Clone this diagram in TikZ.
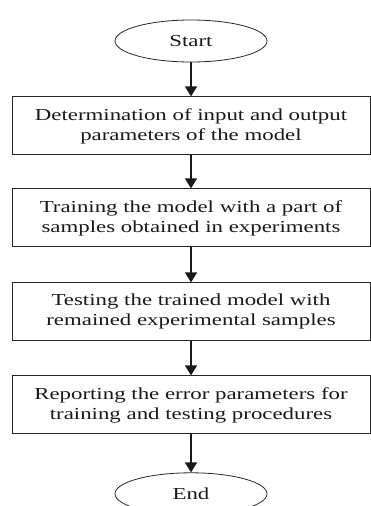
\documentclass[tikz,border=0pt]{standalone}
\usepackage{fontspec}
\setmainfont{Liberation Serif}[FakeStretch=1.36]
\usepackage{tikz}
\usetikzlibrary{shapes.geometric,positioning,arrows.meta}

\begin{document}
\begin{tikzpicture}[
    >={Triangle[width=12pt,length=10pt]},
    every node/.style={font=\fontsize{16.8}{20}\selectfont, text=black!90},
    terminal/.style={ellipse, draw=black!85, line width=0.8pt, minimum width=152pt, minimum height=42pt, inner sep=0pt},
    process/.style={rectangle, draw=black!85, line width=1pt, minimum width=358pt, minimum height=58pt, align=center, inner sep=0pt},
    flow/.style={->, line width=1.4pt, black!90}
]
    \useasboundingbox (0,0) rectangle (371pt,-506pt);

    \node[terminal] (start) at (191pt,-41pt) {Start};
    \node[process, below=34pt of start] (params) {Determination of input and output\\parameters of the model};
    \node[process, below=33pt of params] (train) {Training the model with a part of\\samples obtained in experiments};
    \node[process, below=35pt of train] (test) {Testing the trained model with\\remained experimental samples};
    \node[process, below=34pt of test] (report) {Reporting the error parameters for\\training and testing procedures};
    \node[terminal, below=38pt of report] (stop) {End};

    \draw[flow] (start) -- (params);
    \draw[flow] (params) -- (train);
    \draw[flow] (train) -- (test);
    \draw[flow] (test) -- (report);
    \draw[flow] (report) -- (stop);
\end{tikzpicture}
\end{document}
